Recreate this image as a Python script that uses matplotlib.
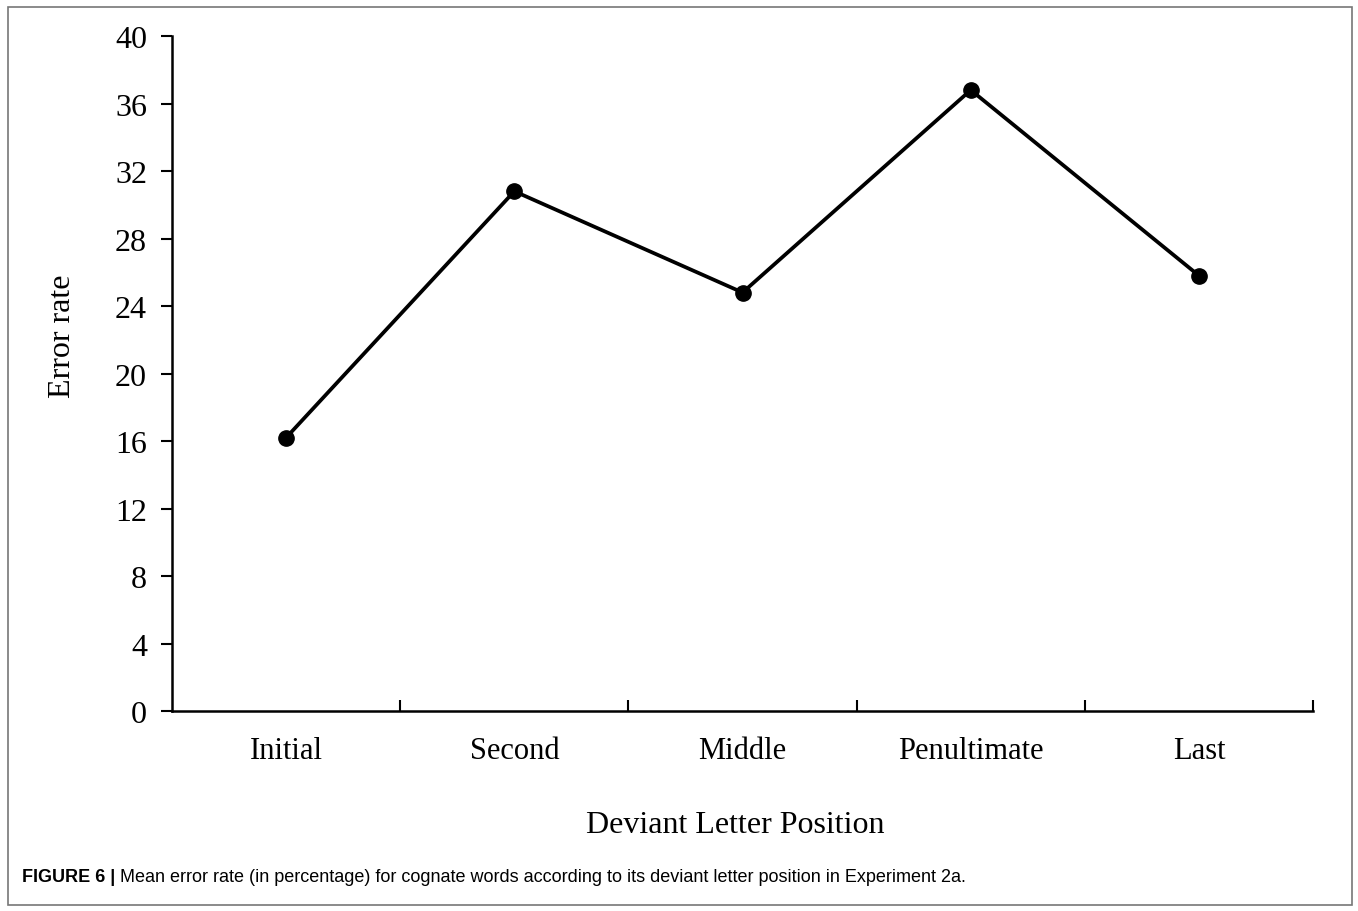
"""Mean error rate by deviant letter position (Experiment 2a)."""

import matplotlib
matplotlib.use("Agg")
import matplotlib.pyplot as plt
from matplotlib.patches import Rectangle

POSITIONS = ["Initial", "Second", "Middle", "Penultimate", "Last"]
ERROR_RATE = [16.2, 30.8, 24.8, 36.8, 25.8]
Y_TICKS = [0, 4, 8, 12, 16, 20, 24, 28, 32, 36, 40]

SERIF = ["Liberation Serif", "DejaVu Serif"]
CAPTION_FONT = ["Liberation Sans", "DejaVu Sans"]

fig = plt.figure(figsize=(13.58, 9.12), dpi=100)
ax = fig.add_axes([0.1267, 0.2193, 0.8402, 0.7401])

xs = list(range(len(POSITIONS)))
ax.plot(xs, ERROR_RATE, color="black", linewidth=2.7, marker="o",
        markersize=11, zorder=3, clip_on=False)

ax.set_xlim(-0.5, len(POSITIONS) - 0.5)
ax.set_ylim(0, 40)
ax.set_yticks(Y_TICKS)
ax.set_yticklabels([str(v) for v in Y_TICKS], family=SERIF, fontsize=23)

# category labels centred, tick marks between categories
ax.set_xticks([x + 0.5 for x in xs])
ax.set_xticklabels([])
ax.set_xticks(xs, minor=True)
ax.set_xticklabels(POSITIONS, minor=True, family=SERIF, fontsize=22)
ax.tick_params(axis="x", which="minor", length=0, pad=18)
ax.tick_params(axis="x", which="major", direction="in", length=8, width=1.5)
ax.tick_params(axis="y", direction="out", length=8, width=1.5, pad=10)

for side in ("top", "right"):
    ax.spines[side].set_visible(False)
for side in ("left", "bottom"):
    ax.spines[side].set_linewidth(1.8)

ax.set_ylabel("Error rate", family=SERIF, fontsize=23)
ax.yaxis.set_label_coords(-0.083, 0.556)
ax.set_xlabel("Deviant Letter Position", family=SERIF, fontsize=23)
ax.xaxis.set_label_coords(0.4934, -0.146)

# outer frame
fig.patches.append(Rectangle((8 / 1358, 6 / 912), 1344 / 1358, 898 / 912,
                             transform=fig.transFigure, fill=False,
                             edgecolor="#777777", linewidth=1.2))

cap_y = 1 - 878 / 912
head = fig.text(22 / 1358, cap_y, "FIGURE 6 | ", family=CAPTION_FONT,
                fontsize=13, fontweight="bold", va="center", ha="left")
renderer = fig.canvas.get_renderer()
bb = head.get_window_extent(renderer=renderer)
fig.text(bb.x1 / fig.bbox.width, cap_y,
         "Mean error rate (in percentage) for cognate words according to its "
         "deviant letter position in Experiment 2a.",
         family=CAPTION_FONT, fontsize=13, va="center", ha="left")

fig.savefig("out.png", dpi=100)
